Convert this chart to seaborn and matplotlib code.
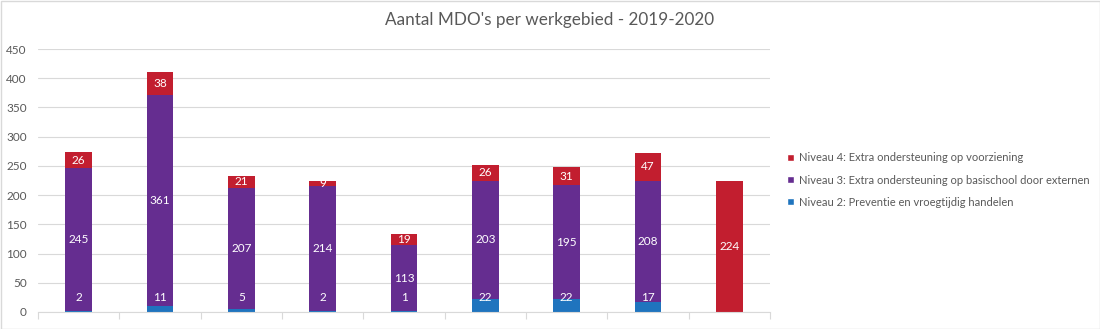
import matplotlib
matplotlib.use("Agg")
import matplotlib.pyplot as plt
import seaborn as sns
import pandas as pd
import numpy as np
from matplotlib.patches import Patch, Rectangle

categories = ["1", "2", "3", "4", "5", "6", "7", "8", "9"]
niveau2 = [2, 11, 5, 2, 1, 22, 22, 17, 0]
niveau3 = [245, 361, 207, 214, 113, 203, 195, 208, 0]
niveau4 = [26, 38, 21, 9, 19, 26, 31, 47, 224]
series_names = ["Niveau 2: Preventie en vroegtijdig handelen",
                "Niveau 3: Extra ondersteuning op basischool door externen",
                "Niveau 4: Extra ondersteuning op voorziening"]
yticks = [0, 50, 100, 150, 200, 250, 300, 350, 400, 450]

c_blue = "#1F74BE"
c_purple = "#652D90"
c_red = "#C21E2F"
grey_txt = "#595959"

sns.set_theme(style="white")
plt.rcParams['font.family'] = ['Lato', 'DejaVu Sans']

fig = plt.figure(figsize=(11, 3.29), dpi=100)
ax = fig.add_axes([38/1100, 1-312/329, (770-38)/1100, (312-49)/329])

n2 = np.array(niveau2, dtype=float)
n3 = np.array(niveau3, dtype=float)
n4 = np.array(niveau4, dtype=float)
df = pd.DataFrame({"cat": categories,
                   "top": n2 + n3 + n4,
                   "mid": n2 + n3,
                   "low": n2})

w = 0.33
sns.barplot(data=df, x="cat", y="top", color=c_red, saturation=1, width=w, ax=ax, linewidth=0)
sns.barplot(data=df, x="cat", y="mid", color=c_purple, saturation=1, width=w, ax=ax, linewidth=0)
sns.barplot(data=df, x="cat", y="low", color=c_blue, saturation=1, width=w, ax=ax, linewidth=0)

for i in range(len(categories)):
    if n2[i] > 0:
        ax.text(i, max(n2[i] / 2, 25), f"{int(n2[i])}", ha="center", va="center",
                color="white", fontsize=8.5)
    if n3[i] > 0:
        ax.text(i, n2[i] + n3[i] / 2, f"{int(n3[i])}", ha="center", va="center",
                color="white", fontsize=8.5)
    if n4[i] > 0:
        ax.text(i, n2[i] + n3[i] + n4[i] / 2, f"{int(n4[i])}", ha="center", va="center",
                color="white", fontsize=8.5)

ax.set_xlim(-0.5, len(categories) - 0.5)
ax.set_ylim(0, 450)
ax.set_yticks(yticks)
ax.set_yticklabels([str(t) for t in yticks], color=grey_txt, fontsize=8.5)
ax.yaxis.grid(True, color="#D9D9D9", linewidth=0.8)
ax.set_axisbelow(True)
ax.set_xlabel("")
ax.set_ylabel("")
ax.set_xticks(np.arange(-0.5, len(categories), 1.0))
ax.set_xticklabels([])
ax.tick_params(axis="x", length=5, color="#D9D9D9", width=0.8, direction="out", bottom=True)
ax.tick_params(axis="y", length=0, pad=8)
for s in ["top", "right", "left"]:
    ax.spines[s].set_visible(False)
ax.spines["bottom"].set_color("#D9D9D9")
ax.spines["bottom"].set_linewidth(0.8)

fig.text(0.5, 1 - 20/329, "Aantal MDO's per werkgebied - 2019-2020", ha="center", va="center",
         fontsize=12.3, color=grey_txt)

handles = [Patch(facecolor=c_red, label=series_names[2]),
           Patch(facecolor=c_purple, label=series_names[1]),
           Patch(facecolor=c_blue, label=series_names[0])]
leg = fig.legend(handles=handles, loc="center left", bbox_to_anchor=(783/1100, 1 - 180/329),
                 frameon=False, fontsize=8, labelcolor=grey_txt, handlelength=0.6, handleheight=0.6,
                 handletextpad=0.4, labelspacing=1.0, borderaxespad=0)

fig.patches.append(Rectangle((0.5/1100, 0.5/329), 1 - 1/1100, 1 - 1/329, transform=fig.transFigure,
                             fill=False, edgecolor="#D9D9D9", linewidth=1))

fig.savefig("out.png", dpi=100)
